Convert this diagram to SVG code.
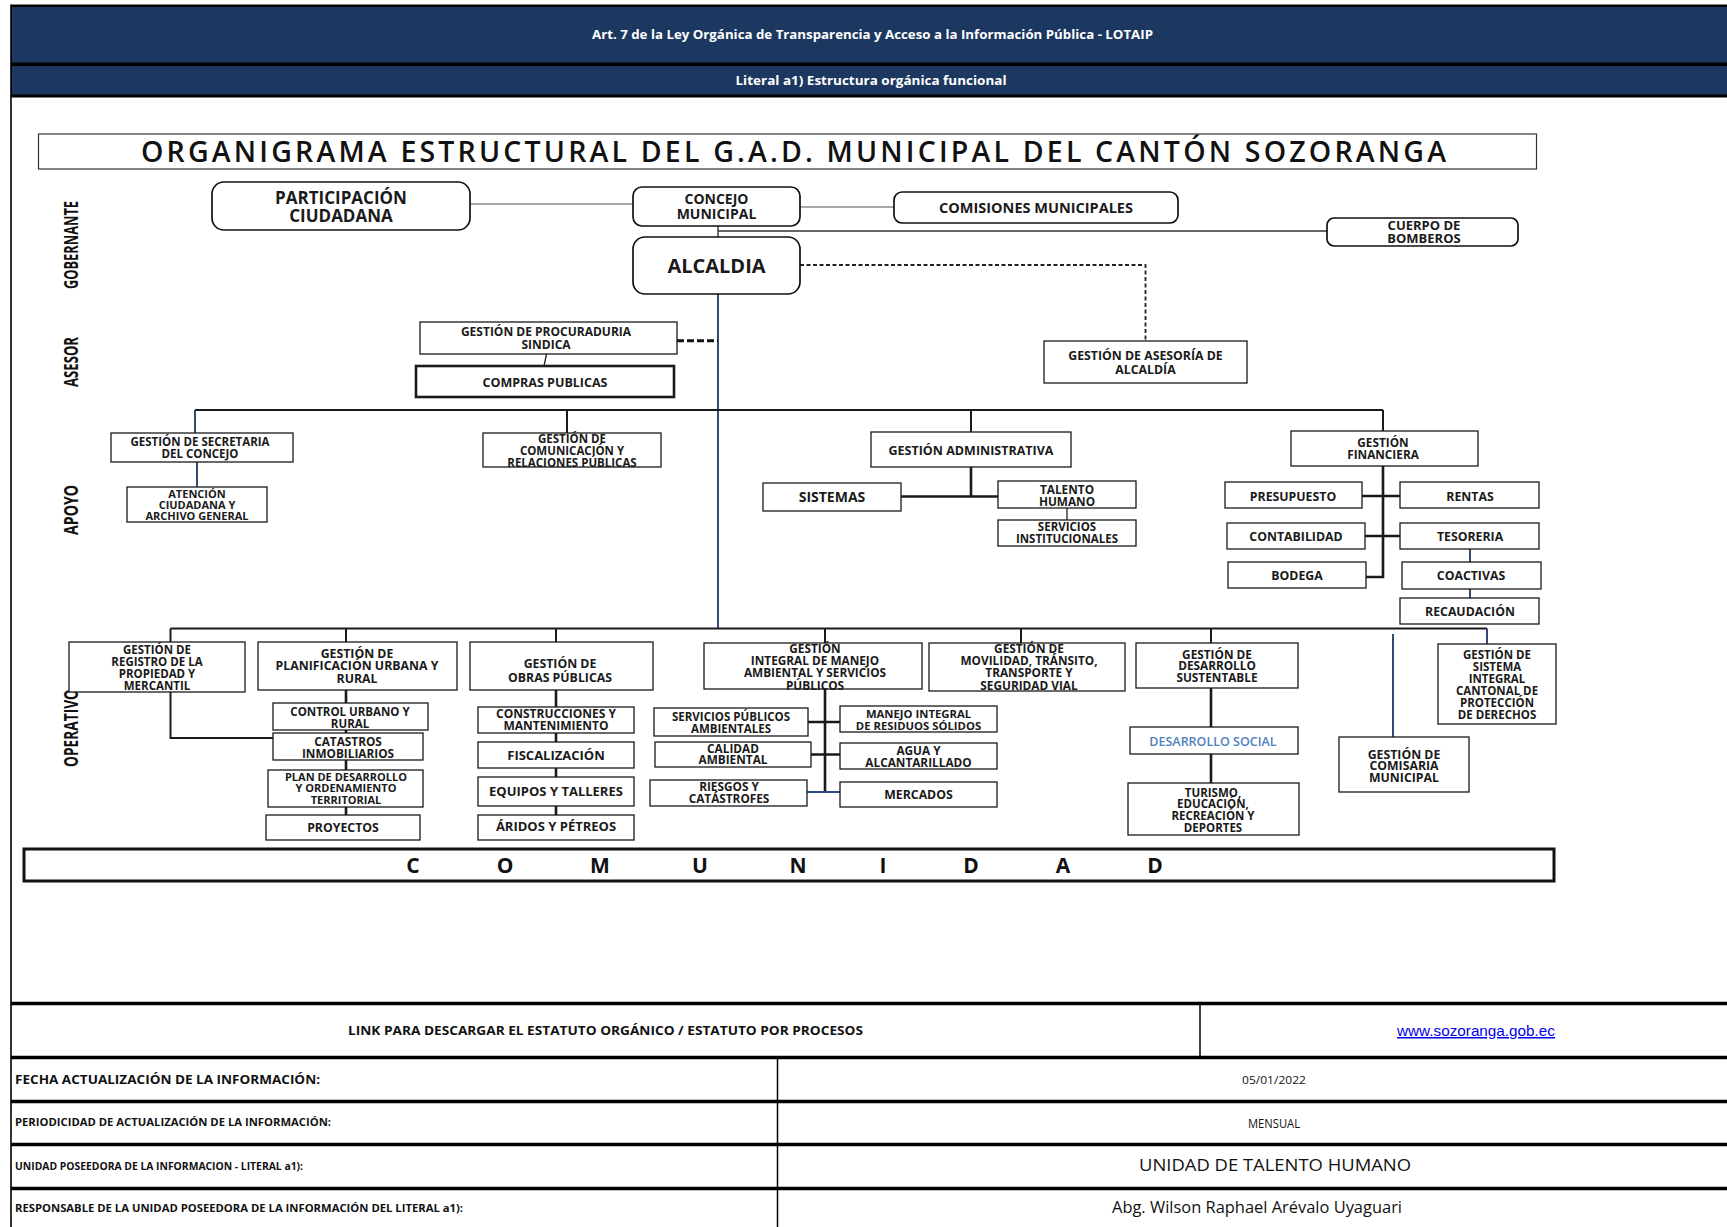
<svg xmlns="http://www.w3.org/2000/svg" width="1727" height="1227" viewBox="0 0 1727 1227">
<defs><style>
.bx{fill:#fff;stroke:#1a1a1a;stroke-width:1.3}
.rb{fill:#fff;stroke:#111;stroke-width:1.7}
.t{font-family:"Open Sans","DejaVu Sans",sans-serif;font-weight:700;font-size:11.8px;text-anchor:middle;fill:#1a1a1a}
.lab{font-family:"Open Sans",sans-serif;font-weight:700;font-size:20px;text-anchor:middle;fill:#111}
.c{fill:none;stroke:#1a1a1a;stroke-width:2}
.c2{fill:none;stroke:#1a1a1a;stroke-width:2.6}
.c1{fill:none;stroke:#222;stroke-width:1.3}
.nv{fill:none;stroke:#1f3864;stroke-width:1.8}
.gr{fill:none;stroke:#8a8a8a;stroke-width:1.5}
.hd{font-family:"Open Sans",sans-serif;font-weight:700;font-size:12px;fill:#fff;text-anchor:middle}
.tb{font-family:"Open Sans",sans-serif;font-weight:700;fill:#111}
.tv{font-family:"Open Sans",sans-serif;font-weight:400;fill:#111;text-anchor:middle}
.hl{stroke:#000;stroke-width:3.5}
.com{font-family:"Open Sans",sans-serif;font-weight:700;font-size:21px;text-anchor:middle;fill:#111}
</style></defs>
<rect x="0" y="0" width="1727" height="1227" fill="#fff"/>

<g id="header">
<rect x="11" y="4.5" width="1716" height="93" fill="#000"/>
<rect x="12" y="7" width="1715" height="55.5" fill="#1d3860"/>
<rect x="12" y="66" width="1715" height="28.5" fill="#1d3860"/>
<text class="hd" x="872.5" y="38.5" textLength="561" lengthAdjust="spacingAndGlyphs">Art. 7 de la Ley Orgánica de Transparencia y Acceso a la Información Pública - LOTAIP</text>
<text class="hd" x="871" y="84.5" textLength="271" lengthAdjust="spacingAndGlyphs">Literal a1) Estructura orgánica funcional</text>
</g>
<line x1="11" y1="4.5" x2="11" y2="1227" stroke="#000" stroke-width="1.6"/>

<g id="title">
<rect x="38.5" y="134" width="1498" height="35" fill="#fff" stroke="#333" stroke-width="1.2"/>
<text x="793.5" y="162" font-family="'Open Sans',sans-serif" font-weight="600" font-size="28.5" fill="#111" text-anchor="middle" textLength="1305" lengthAdjust="spacing">ORGANIGRAMA ESTRUCTURAL DEL G.A.D. MUNICIPAL DEL CANTÓN SOZORANGA</text>
</g>

<g id="levels">
<text class="lab" transform="translate(78,245) rotate(-90)" textLength="88" lengthAdjust="spacingAndGlyphs">GOBERNANTE</text>
<text class="lab" transform="translate(78,362) rotate(-90)" textLength="50" lengthAdjust="spacingAndGlyphs">ASESOR</text>
<text class="lab" transform="translate(78,510) rotate(-90)" textLength="50" lengthAdjust="spacingAndGlyphs">APOYO</text>
<text class="lab" transform="translate(78,728) rotate(-90)" textLength="78" lengthAdjust="spacingAndGlyphs">OPERATIVO</text>
</g>

<g id="connectors">
<path class="gr" d="M470,204 H633 M800,207 H894"/>
<path class="c1" d="M718,226 V237"/>
<path fill="none" stroke="#333" stroke-width="1.6" d="M718,231 H1327"/>
<path class="nv" d="M718,294 V629"/>
<path fill="none" stroke="#222" stroke-width="1.8" stroke-dasharray="4 2.5" d="M800,265 H1145.5 V341"/>
<path fill="none" stroke="#111" stroke-width="3" stroke-dasharray="7 3" d="M677,340.7 H718"/>
<path class="c1" d="M546.5,354 L544,366"/>
<path class="c" d="M195,410 H1383"/>
<path class="nv" d="M195,410 V433 M197,462 V487"/>
<path class="c" d="M567,410 V433 M971,410 V432 M1383,410 V431"/>
<path class="c2" d="M971,467 V496.5 M901,496.5 H998"/>
<path class="c1" d="M1067,508 V520"/>
<path class="c2" d="M1383,466 V577 H1366 M1362,496 H1400 M1365,536 H1400"/>
<path class="nv" d="M1470,549 V562 M1470,589 V598"/>
<path class="c" d="M170.5,628.5 H1487"/>
<path class="c" d="M170.5,628.5 V642 M346,628.5 V642 M556,628.5 V643 M825,628.5 V643 M1021,628.5 V643 M1211,628.5 V643"/>
<path class="nv" d="M1487,628.5 V644 M1393,634 V737"/>
<path class="c" d="M170.5,692 V738 H273"/>
<path class="c2" d="M346,690 V703 M346,730 V733 M346,760 V770 M346,807 V815"/>
<path class="c2" d="M556,690 V707 M556,733 V742 M556,768 V777 M556,806 V815"/>
<path class="c2" d="M825,689 V792 M808,722 H840 M811,754.5 H840"/>
<path fill="none" stroke="#2b4a80" stroke-width="2" d="M807,792 H840"/>
<path class="c2" d="M1211,688 V727 M1211,754 V783"/>
</g>

<g id="participacion"><rect class="rb" x="212" y="182" width="258" height="48" rx="12"/>
<text class="t" style="font-size:17px"><tspan x="341" y="204">PARTICIPACIÓN</tspan><tspan x="341" y="221.5">CIUDADANA</tspan></text></g>
<g id="concejo"><rect class="rb" x="633" y="187" width="167" height="39" rx="9"/>
<text class="t" style="font-size:14px"><tspan x="716.5" y="203.5">CONCEJO</tspan><tspan x="716.5" y="218.5">MUNICIPAL</tspan></text></g>
<g id="comisiones"><rect class="rb" x="894" y="192" width="284" height="31" rx="8"/>
<text class="t" style="font-size:14.5px" x="1036" y="212.5">COMISIONES MUNICIPALES</text></g>
<g id="bomberos"><rect class="rb" x="1327" y="218" width="191" height="28" rx="7"/>
<text class="t" style="font-size:13px"><tspan x="1424" y="229.5">CUERPO DE</tspan><tspan x="1424" y="242.5">BOMBEROS</tspan></text></g>
<g id="alcaldia"><rect class="rb" x="633" y="237" width="167" height="57" rx="12"/>
<text class="t" style="font-size:20px" x="716.5" y="273">ALCALDIA</text></g>

<g id="procuraduria"><rect class="bx" x="420" y="322" width="257" height="32"/>
<text class="t" style="font-size:12px"><tspan x="546" y="335.5">GESTIÓN DE PROCURADURIA</tspan><tspan x="546" y="348.5">SINDICA</tspan></text></g>
<g id="compras"><rect class="bx" style="stroke-width:2.6" x="416" y="366" width="258" height="31"/>
<text class="t" style="font-size:12.5px" x="545" y="386.5">COMPRAS PUBLICAS</text></g>
<g id="asesoria"><rect class="bx" x="1044" y="341" width="203" height="42"/>
<text class="t" style="font-size:12.3px"><tspan x="1145.5" y="360">GESTIÓN DE ASESORÍA DE</tspan><tspan x="1145.5" y="373.5">ALCALDÍA</tspan></text></g>

<g id="secretaria"><rect class="bx" x="111" y="433" width="182" height="29"/>
<text class="t" style="font-size:11.5px"><tspan x="200" y="446.3">GESTIÓN DE SECRETARIA</tspan><tspan x="200" y="458.3">DEL CONCEJO</tspan></text></g>
<g id="atencion"><rect class="bx" x="127" y="487" width="140" height="35"/>
<text class="t" style="font-size:11px"><tspan x="197" y="497.5">ATENCIÓN</tspan><tspan x="197" y="508.5">CIUDADANA Y</tspan><tspan x="197" y="519.5">ARCHIVO GENERAL</tspan></text></g>
<g id="comunicacion"><rect class="bx" x="483" y="433" width="178" height="34"/>
<text class="t" style="font-size:11.5px"><tspan x="572" y="443.3">GESTIÓN DE</tspan><tspan x="572" y="455">COMUNICACIÓN Y</tspan><tspan x="572" y="466.6">RELACIONES PÚBLICAS</tspan></text></g>
<g id="administrativa"><rect class="bx" x="871" y="432" width="200" height="35"/>
<text class="t" style="font-size:12.5px" x="971" y="455">GESTIÓN ADMINISTRATIVA</text></g>
<g id="sistemas"><rect class="bx" x="763" y="483" width="138" height="28"/>
<text class="t" style="font-size:14px" x="832" y="502.3">SISTEMAS</text></g>
<g id="talento"><rect class="bx" x="998" y="481" width="138" height="27"/>
<text class="t"><tspan x="1067" y="493.5">TALENTO</tspan><tspan x="1067" y="505.5">HUMANO</tspan></text></g>
<g id="servicios"><rect class="bx" x="998" y="520" width="138" height="26"/>
<text class="t" style="font-size:11.5px"><tspan x="1067" y="531">SERVICIOS</tspan><tspan x="1067" y="543">INSTITUCIONALES</tspan></text></g>
<g id="financiera"><rect class="bx" x="1291" y="431" width="187" height="35"/>
<text class="t"><tspan x="1383" y="447">GESTIÓN</tspan><tspan x="1383" y="459">FINANCIERA</tspan></text></g>
<g id="presupuesto"><rect class="bx" x="1225" y="482" width="137" height="26"/>
<text class="t" style="font-size:12.3px" x="1293" y="500.5">PRESUPUESTO</text></g>
<g id="rentas"><rect class="bx" x="1400" y="482" width="139" height="26"/>
<text class="t" style="font-size:12.3px" x="1470" y="500.5">RENTAS</text></g>
<g id="contabilidad"><rect class="bx" x="1227" y="523" width="138" height="26"/>
<text class="t" style="font-size:12.3px" x="1296" y="540.5">CONTABILIDAD</text></g>
<g id="tesoreria"><rect class="bx" x="1400" y="523" width="139" height="26"/>
<text class="t" style="font-size:12.3px" x="1470" y="540.5">TESORERIA</text></g>
<g id="bodega"><rect class="bx" x="1228" y="562" width="138" height="26"/>
<text class="t" style="font-size:12.3px" x="1297" y="579.8">BODEGA</text></g>
<g id="coactivas"><rect class="bx" x="1402" y="562" width="139" height="27"/>
<text class="t" style="font-size:12.3px" x="1471" y="580.2">COACTIVAS</text></g>
<g id="recaudacion"><rect class="bx" x="1400" y="598" width="139" height="26"/>
<text class="t" style="font-size:12.3px" x="1470" y="615.8">RECAUDACIÓN</text></g>

<g id="registro"><rect class="bx" x="69" y="642" width="176" height="50"/>
<text class="t" style="font-size:11.5px"><tspan x="157" y="653.8">GESTIÓN DE</tspan><tspan x="157" y="665.8">REGISTRO DE LA</tspan><tspan x="157" y="677.8">PROPIEDAD Y</tspan><tspan x="157" y="689.8">MERCANTIL</tspan></text></g>
<g id="planificacion"><rect class="bx" x="258" y="642" width="199" height="48"/>
<text class="t" style="font-size:12.3px"><tspan x="357" y="657.8">GESTIÓN DE</tspan><tspan x="357" y="670.3">PLANIFICACIÓN URBANA Y</tspan><tspan x="357" y="682.8">RURAL</tspan></text></g>
<g id="control"><rect class="bx" x="273" y="703" width="155" height="27"/>
<text class="t" style="font-size:11.5px"><tspan x="350" y="715.8">CONTROL URBANO Y</tspan><tspan x="350" y="727.5">RURAL</tspan></text></g>
<g id="catastros"><rect class="bx" x="273" y="733" width="150" height="27"/>
<text class="t" style="font-size:11.8px"><tspan x="348" y="745.8">CATASTROS</tspan><tspan x="348" y="757.5">INMOBILIARIOS</tspan></text></g>
<g id="plan"><rect class="bx" x="268" y="770" width="155" height="37"/>
<text class="t" style="font-size:11px"><tspan x="346" y="780.6">PLAN DE DESARROLLO</tspan><tspan x="346" y="792.2">Y ORDENAMIENTO</tspan><tspan x="346" y="803.8">TERRITORIAL</tspan></text></g>
<g id="proyectos"><rect class="bx" x="266" y="815" width="154" height="25"/>
<text class="t" style="font-size:12.3px" x="343" y="831.8">PROYECTOS</text></g>
<g id="obras"><rect class="bx" x="470" y="642" width="183" height="48"/>
<text class="t" style="font-size:12.3px"><tspan x="560" y="667.8">GESTIÓN DE</tspan><tspan x="560" y="681.8">OBRAS PÚBLICAS</tspan></text></g>
<g id="construcciones"><rect class="bx" x="478" y="707" width="156" height="26"/>
<text class="t" style="font-size:12px"><tspan x="556" y="718.3">CONSTRUCCIONES Y</tspan><tspan x="556" y="730.3">MANTENIMIENTO</tspan></text></g>
<g id="fiscalizacion"><rect class="bx" x="478" y="742" width="156" height="26"/>
<text class="t" style="font-size:13px" x="556" y="760">FISCALIZACIÓN</text></g>
<g id="equipos"><rect class="bx" x="478" y="777" width="156" height="29"/>
<text class="t" style="font-size:13px" x="556" y="796.2">EQUIPOS Y TALLERES</text></g>
<g id="aridos"><rect class="bx" x="478" y="815" width="156" height="25"/>
<text class="t" style="font-size:13px" x="556" y="831.2">ÁRIDOS Y PÉTREOS</text></g>

<g id="integral"><rect class="bx" x="704" y="643" width="218" height="46"/>
<text class="t"><tspan x="815" y="652.8">GESTIÓN</tspan><tspan x="815" y="665.2">INTEGRAL DE MANEJO</tspan><tspan x="815" y="677.4">AMBIENTAL Y SERVICIOS</tspan><tspan x="815" y="689.6">PÚBLICOS</tspan></text></g>
<g id="movilidad"><rect class="bx" x="929" y="643" width="196" height="48"/>
<text class="t"><tspan x="1029" y="652.8">GESTIÓN DE</tspan><tspan x="1029" y="665.2">MOVILIDAD, TRÁNSITO,</tspan><tspan x="1029" y="677.4">TRANSPORTE Y</tspan><tspan x="1029" y="689.6">SEGURIDAD VIAL</tspan></text></g>
<g id="desarrollo-sustentable"><rect class="bx" x="1136" y="643" width="162" height="45"/>
<text class="t"><tspan x="1217" y="658.5">GESTIÓN DE</tspan><tspan x="1217" y="670.3">DESARROLLO</tspan><tspan x="1217" y="682.1">SUSTENTABLE</tspan></text></g>
<g id="servicios-publicos"><rect class="bx" x="654" y="708" width="154" height="28"/>
<text class="t" style="font-size:11.5px"><tspan x="731" y="721.3">SERVICIOS PÚBLICOS</tspan><tspan x="731" y="733.3">AMBIENTALES</tspan></text></g>
<g id="manejo"><rect class="bx" x="840" y="706" width="157" height="26"/>
<text class="t" style="font-size:11.3px"><tspan x="918.5" y="718.3">MANEJO INTEGRAL</tspan><tspan x="918.5" y="729.8">DE RESIDUOS SÓLIDOS</tspan></text></g>
<g id="calidad"><rect class="bx" x="655" y="742" width="156" height="25"/>
<text class="t"><tspan x="733" y="752.6">CALIDAD</tspan><tspan x="733" y="764.4">AMBIENTAL</tspan></text></g>
<g id="agua"><rect class="bx" x="840" y="743" width="157" height="26"/>
<text class="t"><tspan x="918.5" y="755">AGUA Y</tspan><tspan x="918.5" y="767">ALCANTARILLADO</tspan></text></g>
<g id="riesgos"><rect class="bx" x="650" y="780" width="157" height="26"/>
<text class="t"><tspan x="729" y="791">RIESGOS Y</tspan><tspan x="729" y="803.3">CATÁSTROFES</tspan></text></g>
<g id="mercados"><rect class="bx" x="840" y="782" width="157" height="25"/>
<text class="t" style="font-size:12.3px" x="918.5" y="799.2">MERCADOS</text></g>
<g id="desarrollo-social"><rect class="bx" x="1130" y="727" width="168" height="27"/>
<text class="t" style="font-size:12.5px;font-weight:600;fill:#4f81bd" x="1213" y="745.5">DESARROLLO SOCIAL</text></g>
<g id="turismo"><rect class="bx" x="1128" y="783" width="171" height="52"/>
<text class="t" style="font-size:11.5px"><tspan x="1213" y="796.8">TURISMO,</tspan><tspan x="1213" y="808.4">EDUCACIÓN,</tspan><tspan x="1213" y="820.2">RECREACIÓN Y</tspan><tspan x="1213" y="831.8">DEPORTES</tspan></text></g>
<g id="comisaria"><rect class="bx" x="1339" y="737" width="130" height="55"/>
<text class="t" style="font-size:12.3px"><tspan x="1404" y="758.5">GESTIÓN DE</tspan><tspan x="1404" y="770.4">COMISARIA</tspan><tspan x="1404" y="782.2">MUNICIPAL</tspan></text></g>
<g id="proteccion-derechos"><rect class="bx" x="1438" y="644" width="118" height="80"/>
<text class="t" style="font-size:11.5px"><tspan x="1497" y="658.5">GESTIÓN DE</tspan><tspan x="1497" y="670.6">SISTEMA</tspan><tspan x="1497" y="682.7">INTEGRAL</tspan><tspan x="1497" y="694.9">CANTONAL DE</tspan><tspan x="1497" y="707">PROTECCIÓN</tspan><tspan x="1497" y="719.1">DE DERECHOS</tspan></text></g>

<g id="comunidad"><rect x="24" y="849" width="1530" height="32" fill="#fff" stroke="#111" stroke-width="3"/>
<text class="com" y="873"><tspan x="413">C</tspan><tspan x="505">O</tspan><tspan x="600">M</tspan><tspan x="700">U</tspan><tspan x="798">N</tspan><tspan x="883">I</tspan><tspan x="971">D</tspan><tspan x="1063">A</tspan><tspan x="1155">D</tspan></text></g>

<g id="table">
<line class="hl" x1="11" y1="1003.5" x2="1727" y2="1003.5"/>
<line class="hl" x1="11" y1="1057.5" x2="1727" y2="1057.5"/>
<line class="hl" x1="11" y1="1101.5" x2="1727" y2="1101.5"/>
<line class="hl" x1="11" y1="1144.5" x2="1727" y2="1144.5"/>
<line class="hl" x1="11" y1="1188.5" x2="1727" y2="1188.5"/>
<line x1="1200" y1="1003.5" x2="1200" y2="1057.5" stroke="#000" stroke-width="1.5"/>
<line x1="777.5" y1="1057.5" x2="777.5" y2="1227" stroke="#000" stroke-width="1.5"/>
<text class="tb" x="605.5" y="1035" font-size="12" text-anchor="middle" textLength="515" lengthAdjust="spacingAndGlyphs">LINK PARA DESCARGAR EL ESTATUTO ORGÁNICO / ESTATUTO POR PROCESOS</text>
<text x="1476" y="1036" font-family="'Liberation Sans',Arial,sans-serif" font-size="15" fill="#0000ee" text-anchor="middle" text-decoration="underline" textLength="158" lengthAdjust="spacingAndGlyphs">www.sozoranga.gob.ec</text>
<text class="tb" x="15" y="1083.5" font-size="12.5" textLength="305" lengthAdjust="spacingAndGlyphs">FECHA ACTUALIZACIÓN DE LA INFORMACIÓN:</text>
<text class="tb" x="15" y="1126" font-size="10" textLength="316" lengthAdjust="spacingAndGlyphs">PERIODICIDAD DE ACTUALIZACIÓN DE LA INFORMACIÓN:</text>
<text class="tb" x="15" y="1170" font-size="10" textLength="288" lengthAdjust="spacingAndGlyphs">UNIDAD POSEEDORA DE LA INFORMACION - LITERAL a1):</text>
<text class="tb" x="15" y="1212" font-size="10" textLength="448" lengthAdjust="spacingAndGlyphs">RESPONSABLE DE LA UNIDAD POSEEDORA DE LA INFORMACIÓN DEL LITERAL a1):</text>
<text class="tv" x="1274" y="1083.5" font-size="11" textLength="64" lengthAdjust="spacingAndGlyphs">05/01/2022</text>
<text class="tv" x="1274" y="1127.5" font-size="13" textLength="52" lengthAdjust="spacingAndGlyphs">MENSUAL</text>
<text class="tv" x="1275" y="1171" font-size="16" textLength="272" lengthAdjust="spacingAndGlyphs">UNIDAD DE TALENTO HUMANO</text>
<text class="tv" x="1257" y="1213" font-size="16" textLength="290" lengthAdjust="spacingAndGlyphs">Abg. Wilson Raphael Arévalo Uyaguari</text>
</g>
</svg>
